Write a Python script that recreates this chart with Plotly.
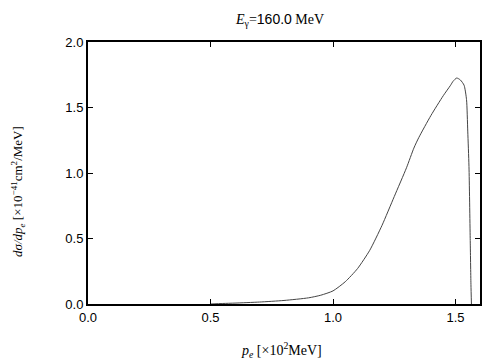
import plotly.graph_objects as go

p_e = [0.50, 0.55, 0.60, 0.70, 0.80, 0.90, 0.95, 1.00, 1.05, 1.10, 1.15, 1.20, 1.25,
       1.30, 1.33, 1.35, 1.40, 1.45, 1.48, 1.49, 1.505, 1.52, 1.535, 1.545, 1.55,
       1.555, 1.56, 1.563, 1.565]
dsigma = [0.0, 0.004, 0.007, 0.015, 0.027, 0.047, 0.067, 0.10, 0.17, 0.27, 0.41, 0.60, 0.82,
          1.04, 1.19, 1.27, 1.44, 1.59, 1.67, 1.70, 1.725, 1.71, 1.67, 1.56, 1.32,
          1.05, 0.50, 0.15, 0.0]

x_ticks = [0.0, 0.5, 1.0, 1.5]
y_ticks = [0.0, 0.5, 1.0, 1.5, 2.0]

fig = go.Figure(go.Scatter(x=p_e, y=dsigma, mode="lines",
                           line=dict(color="#444444", width=1, shape="spline", smoothing=0.6),
                           showlegend=False, hoverinfo="skip"))

axis_common = dict(showgrid=False, zeroline=False, showline=True, linecolor="black",
                   linewidth=2, mirror="ticks", ticks="inside", ticklen=5,
                   tickcolor="black", tickwidth=1, automargin=False,
                   tickfont=dict(family="Liberation Sans", size=13, color="black"))

serif = "Liberation Serif"
fig.update_layout(
    width=504, height=360,
    margin=dict(l=88, r=24, t=42, b=56),
    paper_bgcolor="white", plot_bgcolor="white",
    xaxis=dict(range=[0, 1.6], tickvals=x_ticks, ticktext=[f"{v:.1f}" for v in x_ticks],
               **axis_common),
    yaxis=dict(range=[0, 2.0], tickvals=y_ticks, ticktext=[f"{v:.1f}" for v in y_ticks],
               **axis_common),
    annotations=[
        dict(text="<i>E</i><sub>γ</sub>=<span style='font-family:Liberation Sans'>160.0</span> MeV",
             xref="paper", yref="paper", x=(279 - 88) / 392, y=(304 - 20) / 262,
             xanchor="center", yanchor="middle", showarrow=False,
             font=dict(family=serif, size=14, color="black")),
        dict(text="<i>p<sub>e</sub></i> [×10<sup>2</sup>MeV]",
             xref="paper", yref="paper", x=(281 - 88) / 392, y=(304 - 350) / 262,
             xanchor="center", yanchor="middle", showarrow=False,
             font=dict(family=serif, size=14, color="black")),
        dict(text="<i>dσ/dp<sub>e</sub></i> [×10<sup>−41</sup>cm<sup>2</sup>/MeV]",
             xref="paper", yref="paper", x=(18 - 88) / 392, y=(304 - 192) / 262,
             xanchor="center", yanchor="middle", showarrow=False, textangle=-90,
             font=dict(family=serif, size=13, color="black")),
    ],
)

fig.write_html("out.html", config={"displayModeBar": False},
               post_script="document.body.style.margin='0px';document.body.style.padding='0px';")
